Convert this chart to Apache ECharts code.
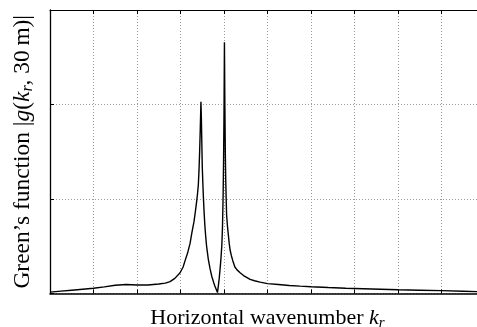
<!DOCTYPE html>
<html>
<head>
<meta charset="utf-8">
<script src="https://cdn.jsdelivr.net/npm/echarts@6/dist/echarts.min.js"></script>
<style>html,body{margin:0;padding:0;background:#fff}#c{width:477px;height:327px}</style>
</head>
<body>
<div id="c"></div>
<script>
// Horizontal wavenumber (grid units, ticks unlabeled)
const kr = [0, 0.25, 0.5, 0.75, 1.0, 1.25, 1.5, 1.75, 2.0, 2.25, 2.5, 2.65, 2.76, 2.87, 2.99, 3.06, 3.10, 3.17, 3.22, 3.26,
  3.31, 3.34, 3.37, 3.39, 3.41, 3.425, 3.44, 3.455, 3.47,
  3.48, 3.49, 3.50, 3.515, 3.53, 3.545, 3.56, 3.58, 3.60, 3.62, 3.64, 3.66, 3.68, 3.70, 3.72, 3.74, 3.76, 3.79, 3.82, 3.85,
  3.87, 3.89, 3.91, 3.93, 3.95, 3.965, 3.98, 3.99, 4.0, 4.01,
  4.02, 4.03, 4.04, 4.05, 4.06, 4.08, 4.10, 4.12, 4.14, 4.17, 4.20, 4.25, 4.3, 4.37, 4.45, 4.6, 4.7, 4.83,
  5.0, 5.25, 5.5, 5.75, 6.0, 6.4, 6.8, 7.2, 7.6, 8.0, 8.5, 9.0, 9.5, 10.0];
// |g(kr, 30 m)| magnitude
const gMag = [0.015, 0.025, 0.035, 0.045, 0.055, 0.07, 0.088, 0.095, 0.09, 0.09, 0.1, 0.11, 0.125, 0.16, 0.22, 0.28, 0.34, 0.44, 0.53, 0.64,
  0.76, 0.86, 0.97, 1.05, 1.15, 1.3, 1.5, 1.75, 2.03,
  1.85, 1.6, 1.35, 1.15, 0.98, 0.84, 0.72, 0.6, 0.5, 0.43, 0.36, 0.31, 0.26, 0.22, 0.18, 0.15, 0.12, 0.08, 0.045, 0.01,
  0.08, 0.16, 0.26, 0.37, 0.51, 0.7, 1.04, 1.4, 1.9, 2.66,
  2.0, 1.5, 1.2, 1.0, 0.83, 0.71, 0.62, 0.53, 0.46, 0.4, 0.35, 0.28, 0.25, 0.22, 0.19, 0.15, 0.135, 0.12,
  0.105, 0.095, 0.085, 0.078, 0.072, 0.063, 0.055, 0.05, 0.045, 0.04, 0.035, 0.03, 0.024, 0.018];
const xTicks = [0, 10, 1];
const yTicks = [0, 3, 1];

const chart = echarts.init(document.getElementById('c'), null, {renderer: 'canvas'});
const serif = '"Liberation Serif", "DejaVu Serif", serif';
const data = kr.map((k, i) => [k, gMag[i]]);
const dotted = {color: '#9a9a9a', width: 1, type: [1, 2]};
function rich(fs, sub, pad) {
  return {
    n: {fontFamily: serif, fontSize: fs, color: '#000'},
    i: {fontFamily: serif, fontSize: fs, fontStyle: 'italic', color: '#000'},
    s: {fontFamily: serif, fontSize: sub, fontStyle: 'italic', color: '#000', padding: [pad, 0, 0, 0]}
  };
}
chart.setOption({
  animation: false,
  backgroundColor: '#fff',
  grid: {left: 50, top: 10, width: 435, bottom: 33.5, containLabel: false, outerBoundsMode: 'none'},
  xAxis: [{
    type: 'value', min: xTicks[0], max: xTicks[1], interval: xTicks[2], position: 'bottom',
    axisLine: {show: true, lineStyle: {color: '#000', width: 1.6}},
    axisTick: {show: true, inside: true, length: 4, lineStyle: {color: '#000', width: 1}},
    axisLabel: {show: false},
    splitLine: {show: true, lineStyle: dotted},
    name: '{n|Horizontal wavenumber }{i|k}{s|r}',
    nameLocation: 'middle', nameGap: 12,
    nameTextStyle: {rich: rich(22, 15, 10)}
  }, {
    type: 'value', min: xTicks[0], max: xTicks[1], interval: xTicks[2], position: 'top',
    axisLine: {show: true, lineStyle: {color: '#000', width: 1}},
    axisTick: {show: true, inside: true, length: 4, lineStyle: {color: '#000', width: 1}},
    axisLabel: {show: false}, splitLine: {show: false}
  }],
  yAxis: [{
    type: 'value', min: yTicks[0], max: yTicks[1], interval: yTicks[2], position: 'left',
    axisLine: {show: true, lineStyle: {color: '#000', width: 1.3}},
    axisTick: {show: true, inside: true, length: 4, lineStyle: {color: '#000', width: 1}},
    axisLabel: {show: false},
    splitLine: {show: true, lineStyle: dotted},
    name: '{n|Green\u2019s function |}{i|g}{n|(}{i|k}{s|r}{n|, 30\u2009m)|}',
    nameLocation: 'middle', nameGap: 14, nameRotate: 90,
    nameTextStyle: {rich: rich(23.4, 16, 10)}
  }],
  series: [{
    type: 'line', data: data, xAxisIndex: 0, yAxisIndex: 0,
    showSymbol: false, smooth: false,
    lineStyle: {color: '#000', width: 1.4}
  }]
});
</script>
</body>
</html>
